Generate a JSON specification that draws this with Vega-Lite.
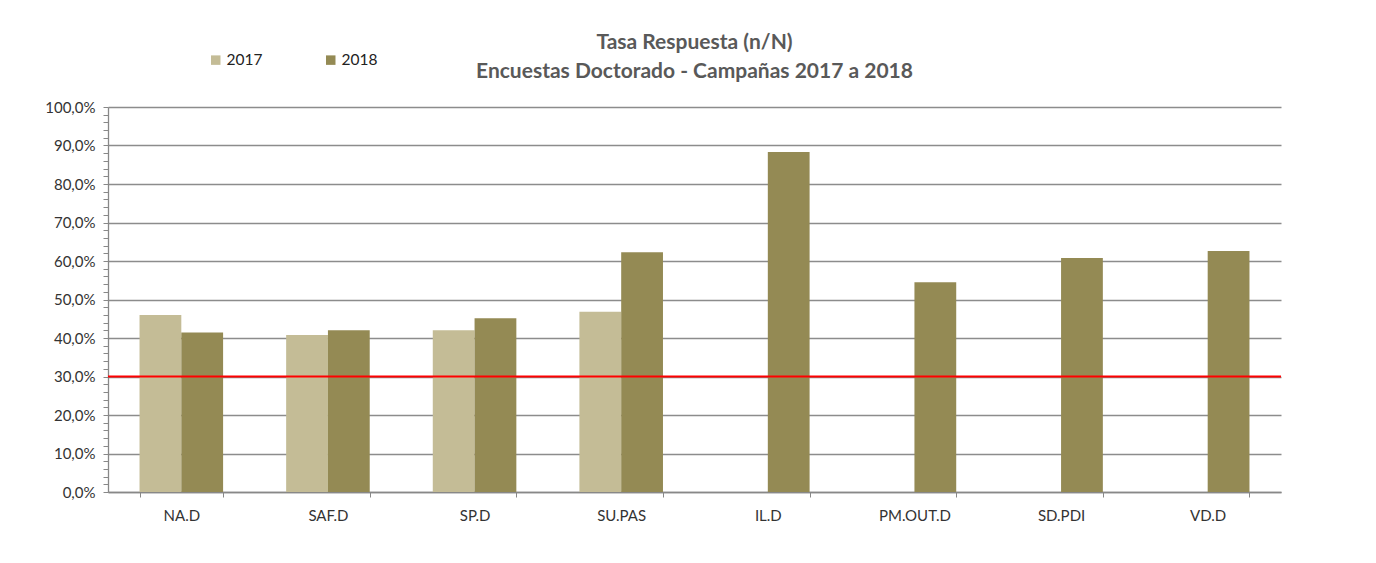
{
  "$schema": "https://vega.github.io/schema/vega-lite/v6.json",
  "width": 1173,
  "height": 385,
  "autosize": {"type": "none"},
  "padding": {"left": 108, "top": 107, "right": 95, "bottom": 71},
  "background": "white",
  "config": {
    "locale": {"number": {"decimal": ",", "thousands": ".", "grouping": [3], "currency": ["", " €"]}},
    "view": {"stroke": null},
    "font": "Lato"
  },
  "title": {
    "text": ["Tasa Respuesta (n/N)", "Encuestas Doctorado - Campañas 2017 a 2018"],
    "fontSize": 21,
    "fontWeight": "bold",
    "color": "#595959",
    "anchor": "middle",
    "lineHeight": 29,
    "offset": -30
  },
  "encoding": {
    "y": {
      "field": "tasa",
      "type": "quantitative",
      "scale": {"domain": [0, 1], "nice": false},
      "axis": {
        "title": null,
        "format": ".1%",
        "values": [0, 0.02, 0.04, 0.06, 0.08, 0.1, 0.12, 0.14, 0.16, 0.18, 0.2, 0.22, 0.24, 0.26, 0.28, 0.3, 0.32, 0.34, 0.36, 0.38, 0.4, 0.42, 0.44, 0.46, 0.48, 0.5, 0.52, 0.54, 0.56, 0.58, 0.6, 0.62, 0.64, 0.66, 0.68, 0.7, 0.72, 0.74, 0.76, 0.78, 0.8, 0.82, 0.84, 0.86, 0.88, 0.9, 0.92, 0.94, 0.96, 0.98, 1],
        "labelExpr": "round(datum.value * 100) % 10 == 0 ? datum.label : ''",
        "labelOverlap": false,
        "labelFontSize": 15,
        "labelColor": "#333333",
        "labelPadding": 8,
        "tickSize": 5,
        "tickColor": "#888888",
        "domainColor": "#888888",
        "domainWidth": 1.3,
        "grid": true,
        "gridColor": "#8c8c8c",
        "gridWidth": 1.3,
        "gridOpacity": {"condition": {"test": "round(datum.value * 100) % 10 == 0", "value": 1}, "value": 0}
      }
    }
  },
  "layer": [
    {
      "data": {
        "values": [
          {"categoria": "NA.D", "anio": "2017", "tasa": 0.460},
          {"categoria": "NA.D", "anio": "2018", "tasa": 0.414},
          {"categoria": "SAF.D", "anio": "2017", "tasa": 0.408},
          {"categoria": "SAF.D", "anio": "2018", "tasa": 0.420},
          {"categoria": "SP.D", "anio": "2017", "tasa": 0.420},
          {"categoria": "SP.D", "anio": "2018", "tasa": 0.451},
          {"categoria": "SU.PAS", "anio": "2017", "tasa": 0.468},
          {"categoria": "SU.PAS", "anio": "2018", "tasa": 0.623},
          {"categoria": "IL.D", "anio": "2018", "tasa": 0.883},
          {"categoria": "PM.OUT.D", "anio": "2018", "tasa": 0.545},
          {"categoria": "SD.PDI", "anio": "2018", "tasa": 0.608},
          {"categoria": "VD.D", "anio": "2018", "tasa": 0.626}
        ]
      },
      "mark": {"type": "bar"},
      "encoding": {
        "x": {
          "field": "categoria",
          "type": "nominal",
          "sort": ["NA.D", "SAF.D", "SP.D", "SU.PAS", "IL.D", "PM.OUT.D", "SD.PDI", "VD.D"],
          "scale": {"paddingInner": 0.43, "paddingOuter": 0.215},
          "axis": {
            "title": null,
            "labelAngle": 0,
            "tickBand": "extent",
            "tickSize": 5,
            "tickColor": "#888888",
            "domainColor": "#888888",
            "domainWidth": 1.3,
            "labelFontSize": 15,
            "labelColor": "#333333",
            "labelPadding": 11,
            "grid": false
          }
        },
        "xOffset": {"field": "anio", "type": "nominal", "scale": {"domain": ["2017", "2018"]}},
        "color": {
          "field": "anio",
          "type": "nominal",
          "scale": {"domain": ["2017", "2018"], "range": ["#C4BC96", "#948A54"]},
          "legend": {
            "title": null,
            "orient": "none",
            "legendX": 100,
            "legendY": -55,
            "direction": "horizontal",
            "symbolType": "square",
            "symbolSize": 90,
            "symbolStrokeWidth": 0,
            "labelFontSize": 15.5,
            "labelColor": "#222222",
            "columnPadding": 60,
            "labelOffset": 3
          }
        }
      }
    },
    {
      "data": {"values": [{"tasa": 0.3}]},
      "mark": {"type": "rule", "color": "#FF0000", "strokeWidth": 2},
      "encoding": {}
    }
  ]
}
